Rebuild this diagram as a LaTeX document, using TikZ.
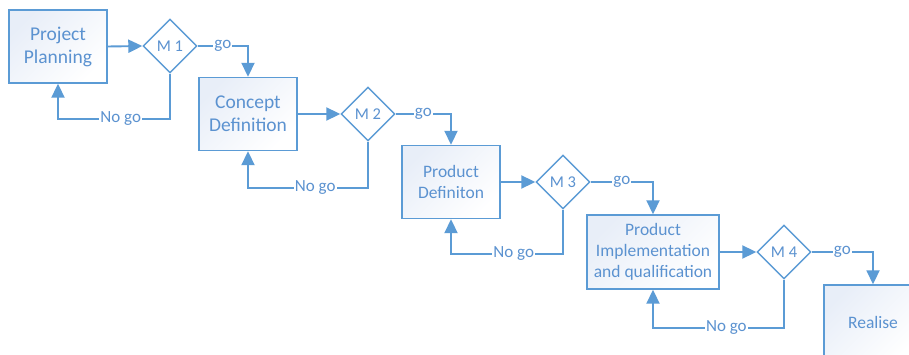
\documentclass[tikz,border=0pt]{standalone}
\usepackage{fontspec}
\setmainfont{Carlito}
\usetikzlibrary{shapes.geometric,arrows.meta}
\definecolor{lineblue}{HTML}{5B9BD5}
\definecolor{txtblue}{HTML}{5B92D0}
\definecolor{tint}{HTML}{E8EEF8}
\begin{document}
\begin{tikzpicture}[x=1pt,y=-1pt,
  box/.style={draw=lineblue, line width=1.4pt, top color=tint, bottom color=white, shading angle=45,
    text=txtblue, align=center, inner sep=0pt, minimum width=98pt, minimum height=73pt},
  bigtxt/.style={font=\fontsize{19.5}{23}\selectfont},
  midtxt/.style={font=\fontsize{17.5}{21}\selectfont},
  gate/.style={diamond, aspect=1, draw=lineblue, line width=1.4pt, fill=white, inner sep=0pt,
    minimum width=54pt, minimum height=54pt, text=txtblue, font=\fontsize{16.5}{18}\selectfont},
  conn/.style={draw=lineblue, line width=1.9pt, -{Triangle[length=14pt,width=13pt]}},
  lbl/.style={fill=white, text=txtblue, inner sep=1pt, font=\fontsize{17}{19}\selectfont}
]
\clip (0,0) rectangle (909,355);
\fill[white] (0,0) rectangle (909,355);

\node[box,bigtxt] (b1) at (58,46.5) {Project\\Planning};
\node[box,bigtxt] (b2) at (248,114) {Concept\\Definition};
\node[box,midtxt] (b3) at (451,182) {Product\\Definiton};
\node[box,midtxt,minimum width=132pt,minimum height=74pt] (b4) at (653,252) {Product\\Implementation\\and qualification};
\node[box,midtxt,minimum height=74pt] (b5) at (873,322) {Realise};

\node[gate] (m1) at (170,46) {M 1};
\node[gate] (m2) at (368,114) {M 2};
\node[gate] (m3) at (563,182) {M 3};
\node[gate] (m4) at (784,252) {M 4};

% forward arrows
\draw[conn] (b1.east) -- (m1.west);
\draw[conn] (b2.east) -- (m2.west);
\draw[conn] (b3.east) -- (m3.west);
\draw[conn] (b4.east) -- (m4.west);

% go
\draw[conn] (m1.east) -| node[lbl,pos=0.25]{go} (b2.north);
\draw[conn] (m2.east) -| node[lbl,pos=0.25]{go} (b3.north);
\draw[conn] (m3.east) -| node[lbl,pos=0.25]{go} (b4.north);
\draw[conn] (m4.east) -| node[lbl,pos=0.25]{go} (b5.north);

% no go
\draw[conn] (m1.south) -- ++(0,45) -| node[lbl,pos=0.22]{No go} (b1.south);
\draw[conn] (m2.south) -- ++(0,46) -| node[lbl,pos=0.22]{No go} (b2.south);
\draw[conn] (m3.south) -- ++(0,44) -| node[lbl,pos=0.22]{No go} (b3.south);
\draw[conn] (m4.south) -- ++(0,48) -| node[lbl,pos=0.22]{No go} (b4.south);
\end{tikzpicture}
\end{document}
